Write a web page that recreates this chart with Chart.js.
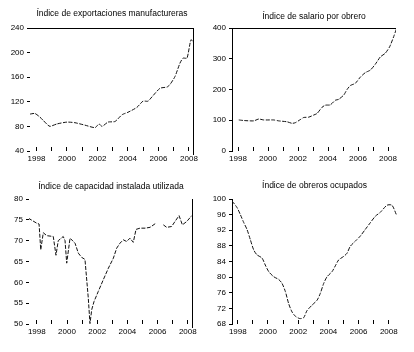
<!DOCTYPE html>
<html>
<head>
<meta charset="utf-8">
<script src="https://cdn.jsdelivr.net/npm/chart.js@4.4.1/dist/chart.umd.min.js"></script>
<style>
  body { margin: 0; background: #fff; }
  #wrap { position: relative; width: 414px; height: 352px; }
  #wrap canvas { position: absolute; }
</style>
</head>
<body>
<div id="wrap">
  <canvas id="c1" width="207" height="176" style="left:0;top:0"></canvas>
  <canvas id="c2" width="207" height="176" style="left:207px;top:0"></canvas>
  <canvas id="c3" width="207" height="176" style="left:0;top:176px"></canvas>
  <canvas id="c4" width="207" height="176" style="left:207px;top:176px"></canvas>
</div>
<script>
// anos con etiqueta y anos con solo marca
var tickYears = [1998, 2000, 2002, 2004, 2006, 2008];
var minorYears = [1999, 2001, 2003, 2005, 2007];

// Indice de exportaciones manufactureras
var expYears = [1997.57, 1997.9, 1998.23, 1998.43, 1998.75, 1998.89, 1999.34, 2000.0, 2000.52, 2001.18, 2001.84, 2002.1, 2002.3, 2002.69, 2003.15, 2003.61, 2004.0, 2004.59, 2004.98, 2005.31, 2005.57, 2006.1, 2006.56, 2006.75, 2007.08, 2007.41, 2007.61, 2007.87, 2008.13, 2008.33];
var expValues = [100, 101, 95, 90, 82, 80, 84, 87, 86, 82, 78, 84, 80, 87, 88, 99, 103, 111, 121, 121, 128, 142, 144, 148, 161, 183, 191, 191, 221, 215];

// Indice de salario por obrero
var salYears = [1998.05, 1998.42, 1999.05, 1999.38, 1999.71, 2000.38, 2000.71, 2001.27, 2001.6, 2001.82, 2002.15, 2002.38, 2002.71, 2003.05, 2003.27, 2003.6, 2003.82, 2004.15, 2004.49, 2004.71, 2005.05, 2005.27, 2005.49, 2005.82, 2006.15, 2006.49, 2006.82, 2007.15, 2007.49, 2007.82, 2008.11, 2008.38, 2008.55];
var salValues = [101, 99, 98, 104, 101, 101, 98, 95, 90, 92, 102, 109, 110, 117, 122, 142, 149, 150, 165, 168, 182, 200, 213, 220, 240, 255, 263, 282, 306, 318, 339, 372, 396];

// Indice de capacidad instalada utilizada (null = hueco en la serie)
var capYears = [1997.44, 1997.99, 1998.15, 1998.26, 1998.43, 1998.66, 1999.09, 1999.27, 1999.42, 1999.75, 1999.87, 1999.98, 2000.2, 2000.53, 2000.75, 2000.97, 2001.19, 2001.41, 2001.52, 2001.64, 2001.79, 2002.07, 2002.4, 2002.74, 2003.07, 2003.29, 2003.51, 2003.73, 2003.95, 2004.17, 2004.39, 2004.57, 2004.83, 2005.17, 2005.5, 2005.89, 2006.1, 2006.38, 2006.6, 2006.93, 2007.15, 2007.42, 2007.64, 2007.93, 2008.26];
var capValues = [75.4, 74.2, 74, 67.8, 71.9, 71.2, 71, 66.5, 70, 71, 70, 64.6, 70.6, 69.4, 67, 66, 65.5, 56.2, 50.1, 53.5, 55.4, 57.8, 60.6, 63.4, 65.8, 68.2, 69.4, 70.2, 69.8, 70.6, 69.6, 72.7, 73, 73, 73.2, 74.2, null, 73.8, 73.2, 73.4, 74.6, 76, 73.8, 74.6, 76];

// Indice de obreros ocupados
var obrYears = [1997.62, 1997.95, 1998.17, 1998.39, 1998.61, 1998.83, 1999.05, 1999.27, 1999.6, 1999.82, 2000.05, 2000.38, 2000.71, 2000.93, 2001.15, 2001.37, 2001.59, 2001.81, 2002.1, 2002.36, 2002.58, 2002.91, 2003.25, 2003.46, 2003.69, 2003.91, 2004.24, 2004.46, 2004.68, 2005.01, 2005.23, 2005.45, 2005.78, 2006.11, 2006.44, 2006.77, 2007.11, 2007.44, 2007.88, 2008.21, 2008.5];
var obrValues = [99.5, 97.8, 96, 94, 92.2, 89.6, 87, 85.7, 84.9, 83.1, 81.4, 80.1, 79.4, 78.4, 76.3, 73.2, 71.1, 70, 69.4, 69.6, 71.4, 72.8, 74.1, 75.8, 78.4, 80.1, 81.4, 82.9, 84.4, 85.3, 86.1, 87.9, 89.2, 90.5, 92.2, 93.9, 95.6, 96.6, 98.4, 98.4, 96];

Chart.defaults.font.family = '"Liberation Sans", Arial, sans-serif';
Chart.defaults.font.size = 8;
Chart.defaults.color = '#000';

// lineas del marco que se ven en el original (arriba / derecha)
var framePlugin = {
  id: 'frame',
  afterDraw: function (chart, args, opts) {
    var a = chart.chartArea, ctx = chart.ctx;
    ctx.save();
    ctx.strokeStyle = '#000';
    ctx.lineWidth = 1;
    ctx.beginPath();
    if (opts.top) { ctx.moveTo(a.left, a.top + 0.5); ctx.lineTo(a.right, a.top + 0.5); }
    if (opts.right) { ctx.moveTo(a.right - 0.5, a.top); ctx.lineTo(a.right - 0.5, a.bottom + 4); }
    ctx.stroke();
    ctx.restore();
  }
};

function panel(id, p) {
  var pts = p.years.map(function (yr, i) { return { x: yr, y: p.values[i] }; });
  return new Chart(document.getElementById(id), {
    type: 'line',
    data: {
      datasets: [{
        data: pts,
        borderColor: '#111',
        borderWidth: 1,
        borderDash: [4, 1.5],
        pointRadius: 0,
        tension: p.tension,
        spanGaps: false
      }]
    },
    plugins: [framePlugin],
    options: {
      responsive: false,
      animation: false,
      layout: { padding: { left: 0, right: p.padRight, top: 0, bottom: 0 } },
      plugins: {
        legend: { display: false },
        tooltip: { enabled: false },
        title: {
          display: true,
          text: p.title,
          fullSize: false,
          font: { size: 8.5, weight: 'normal', lineHeight: '12px' },
          padding: p.titlePad
        },
        frame: { top: p.frameTop, right: p.frameRight }
      },
      scales: {
        x: {
          type: 'linear',
          min: p.xMin,
          max: p.xMax,
          afterBuildTicks: function (s) {
            s.ticks = tickYears.concat(minorYears).sort().map(function (v) { return { value: v }; });
          },
          afterFit: function (s) { s.height = p.xHeight; },
          border: { display: false },
          grid: { drawOnChartArea: false, tickLength: -4, color: '#000' },
          ticks: {
            autoSkip: false,
            maxRotation: 0,
            padding: p.xPad,
            callback: function (v) { return tickYears.indexOf(v) >= 0 ? String(v) : ''; }
          }
        },
        y: {
          min: p.yMin,
          max: p.yMax,
          afterFit: function (s) { s.width = p.yWidth; },
          border: { display: p.leftLine, color: '#000' },
          grid: { drawOnChartArea: false, tickLength: 3, color: '#000' },
          ticks: { stepSize: p.yStep, padding: 3 }
        }
      }
    }
  });
}

panel('c1', {
  title: 'Índice de exportaciones manufactureras',
  years: expYears, values: expValues, tension: 0.2,
  xMin: 1997.574, xMax: 2008.328, yMin: 40, yMax: 240, yStep: 40,
  padRight: 13, titlePad: { top: 8, bottom: 8 }, xHeight: 25, yWidth: 30, xPad: 7,
  frameTop: true, frameRight: true, leftLine: false
});

panel('c2', {
  title: 'Índice de salario por obrero',
  years: salYears, values: salValues, tension: 0.2,
  xMin: 1997.6, xMax: 2008.533, yMin: 0, yMax: 400, yStep: 100,
  padRight: 18, titlePad: { top: 11, bottom: 5 }, xHeight: 25, yWidth: 25, xPad: 7,
  frameTop: true, frameRight: false, leftLine: true
});

panel('c3', {
  title: 'Índice de capacidad instalada utilizada',
  years: capYears, values: capValues, tension: 0,
  xMin: 1997.483, xMax: 2008.344, yMin: 50, yMax: 80, yStep: 5,
  padRight: 14, titlePad: { top: 5, bottom: 6 }, xHeight: 28, yWidth: 29, xPad: 7,
  frameTop: false, frameRight: true, leftLine: false
});

panel('c4', {
  title: 'Índice de obreros ocupados',
  years: obrYears, values: obrValues, tension: 0.25,
  xMin: 1997.616, xMax: 2008.543, yMin: 68, yMax: 100, yStep: 4,
  padRight: 17, titlePad: { top: 4, bottom: 7 }, xHeight: 28, yWidth: 25, xPad: 7,
  frameTop: false, frameRight: false, leftLine: true
});
</script>
</body>
</html>
